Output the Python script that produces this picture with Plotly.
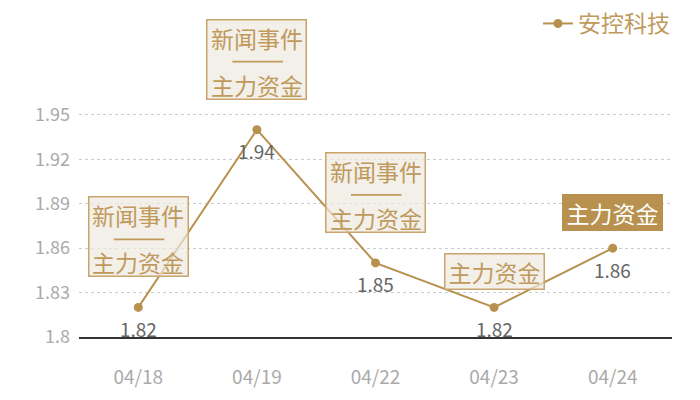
import plotly.graph_objects as go

dates = ["04/18", "04/19", "04/22", "04/23", "04/24"]
values = [1.82, 1.94, 1.85, 1.82, 1.86]
series_name = "安控科技"
y_ticks = [1.8, 1.83, 1.86, 1.89, 1.92, 1.95]
y_max = 1.96
# annotation kind per point: "both" = 新闻事件 + 主力资金, "fund" = 主力资金, "fund_hl" = highlighted 主力资金
ann_kind = ["both", "both", "both", "fund", "fund_hl"]

GOLD = "#b8914f"
TEXT_GOLD = "#c09a5c"
BORDER = "#c9a56c"
FILL = "rgba(238,232,223,0.7)"
FONT = "Noto Sans CJK SC"

fig = go.Figure()
fig.add_trace(go.Scatter(
    x=dates, y=values, name=series_name, mode="lines+markers",
    line=dict(color=GOLD, width=2),
    marker=dict(color=GOLD, size=9),
))

annotations = []
for d, v in zip(dates, values):
    annotations.append(dict(x=d, y=v, xref="x", yref="y", text=f"{v:.2f}", showarrow=False,
                            yshift=-21, font=dict(family=FONT, size=19, color="#666666")))
for d, v, k in zip(dates, values, ann_kind):
    if k == "both":
        annotations.append(dict(x=d, y=v, xref="x", yref="y", text=" ", showarrow=False,
                                xanchor="center", yanchor="bottom", yshift=30,
                                width=98, height=78, borderpad=0, borderwidth=1.5,
                                bordercolor=BORDER, bgcolor=FILL))
        for txt, sh in (("新闻事件", 92), ("主力资金", 45)):
            annotations.append(dict(x=d, y=v, xref="x", yref="y", text=txt, showarrow=False,
                                    xanchor="center", yanchor="middle", yshift=sh,
                                    font=dict(family=FONT, size=23, color=TEXT_GOLD)))
        # separator rule between the two lines
        annotations.append(dict(x=d, y=v, xref="x", yref="y", text="", showarrow=True,
                                ax=-52, ay=0, xshift=26, yshift=68,
                                arrowhead=0, arrowwidth=1.8, arrowcolor=TEXT_GOLD,
                                standoff=0, startstandoff=0))
    else:
        hl = k == "fund_hl"
        annotations.append(dict(x=d, y=v, xref="x", yref="y", text="主力资金", showarrow=False,
                                xanchor="center", yanchor="bottom", yshift=17,
                                width=98, height=34, borderpad=0, borderwidth=1.5,
                                bordercolor=GOLD if hl else BORDER,
                                bgcolor=GOLD if hl else FILL,
                                font=dict(family=FONT, size=23, color="#ffffff" if hl else TEXT_GOLD)))

fig.update_layout(
    width=700, height=400,
    margin=dict(l=79, r=28, t=100, b=63),
    paper_bgcolor="white", plot_bgcolor="white",
    font=dict(family=FONT),
    showlegend=True,
    legend=dict(xref="paper", x=1.005, xanchor="right", yref="container", y=0.995, yanchor="top",
                font=dict(family=FONT, size=23, color=TEXT_GOLD), bgcolor="rgba(0,0,0,0)",
                itemwidth=30),
    annotations=annotations,
)
fig.update_xaxes(
    type="category", range=[-0.5, len(dates) - 0.5],
    showline=True, linecolor="#333333", linewidth=1.5,
    showgrid=False, ticks="", ticklabelstandoff=22,
    tickfont=dict(family=FONT, size=19, color="#aaaaaa"),
)
fig.update_yaxes(
    range=[y_ticks[0], y_max],
    tickvals=y_ticks + [y_max], ticktext=[f"{t:g}" for t in y_ticks] + [""],
    showgrid=True, gridcolor="#cccccc", griddash="dot", gridwidth=1,
    zeroline=False, showline=False, ticks="", ticklabelstandoff=8,
    tickfont=dict(family=FONT, size=18, color="#aaaaaa"),
)

fig.write_html("out.html", config={"displayModeBar": False},
               post_script="document.body.style.margin='0';")
